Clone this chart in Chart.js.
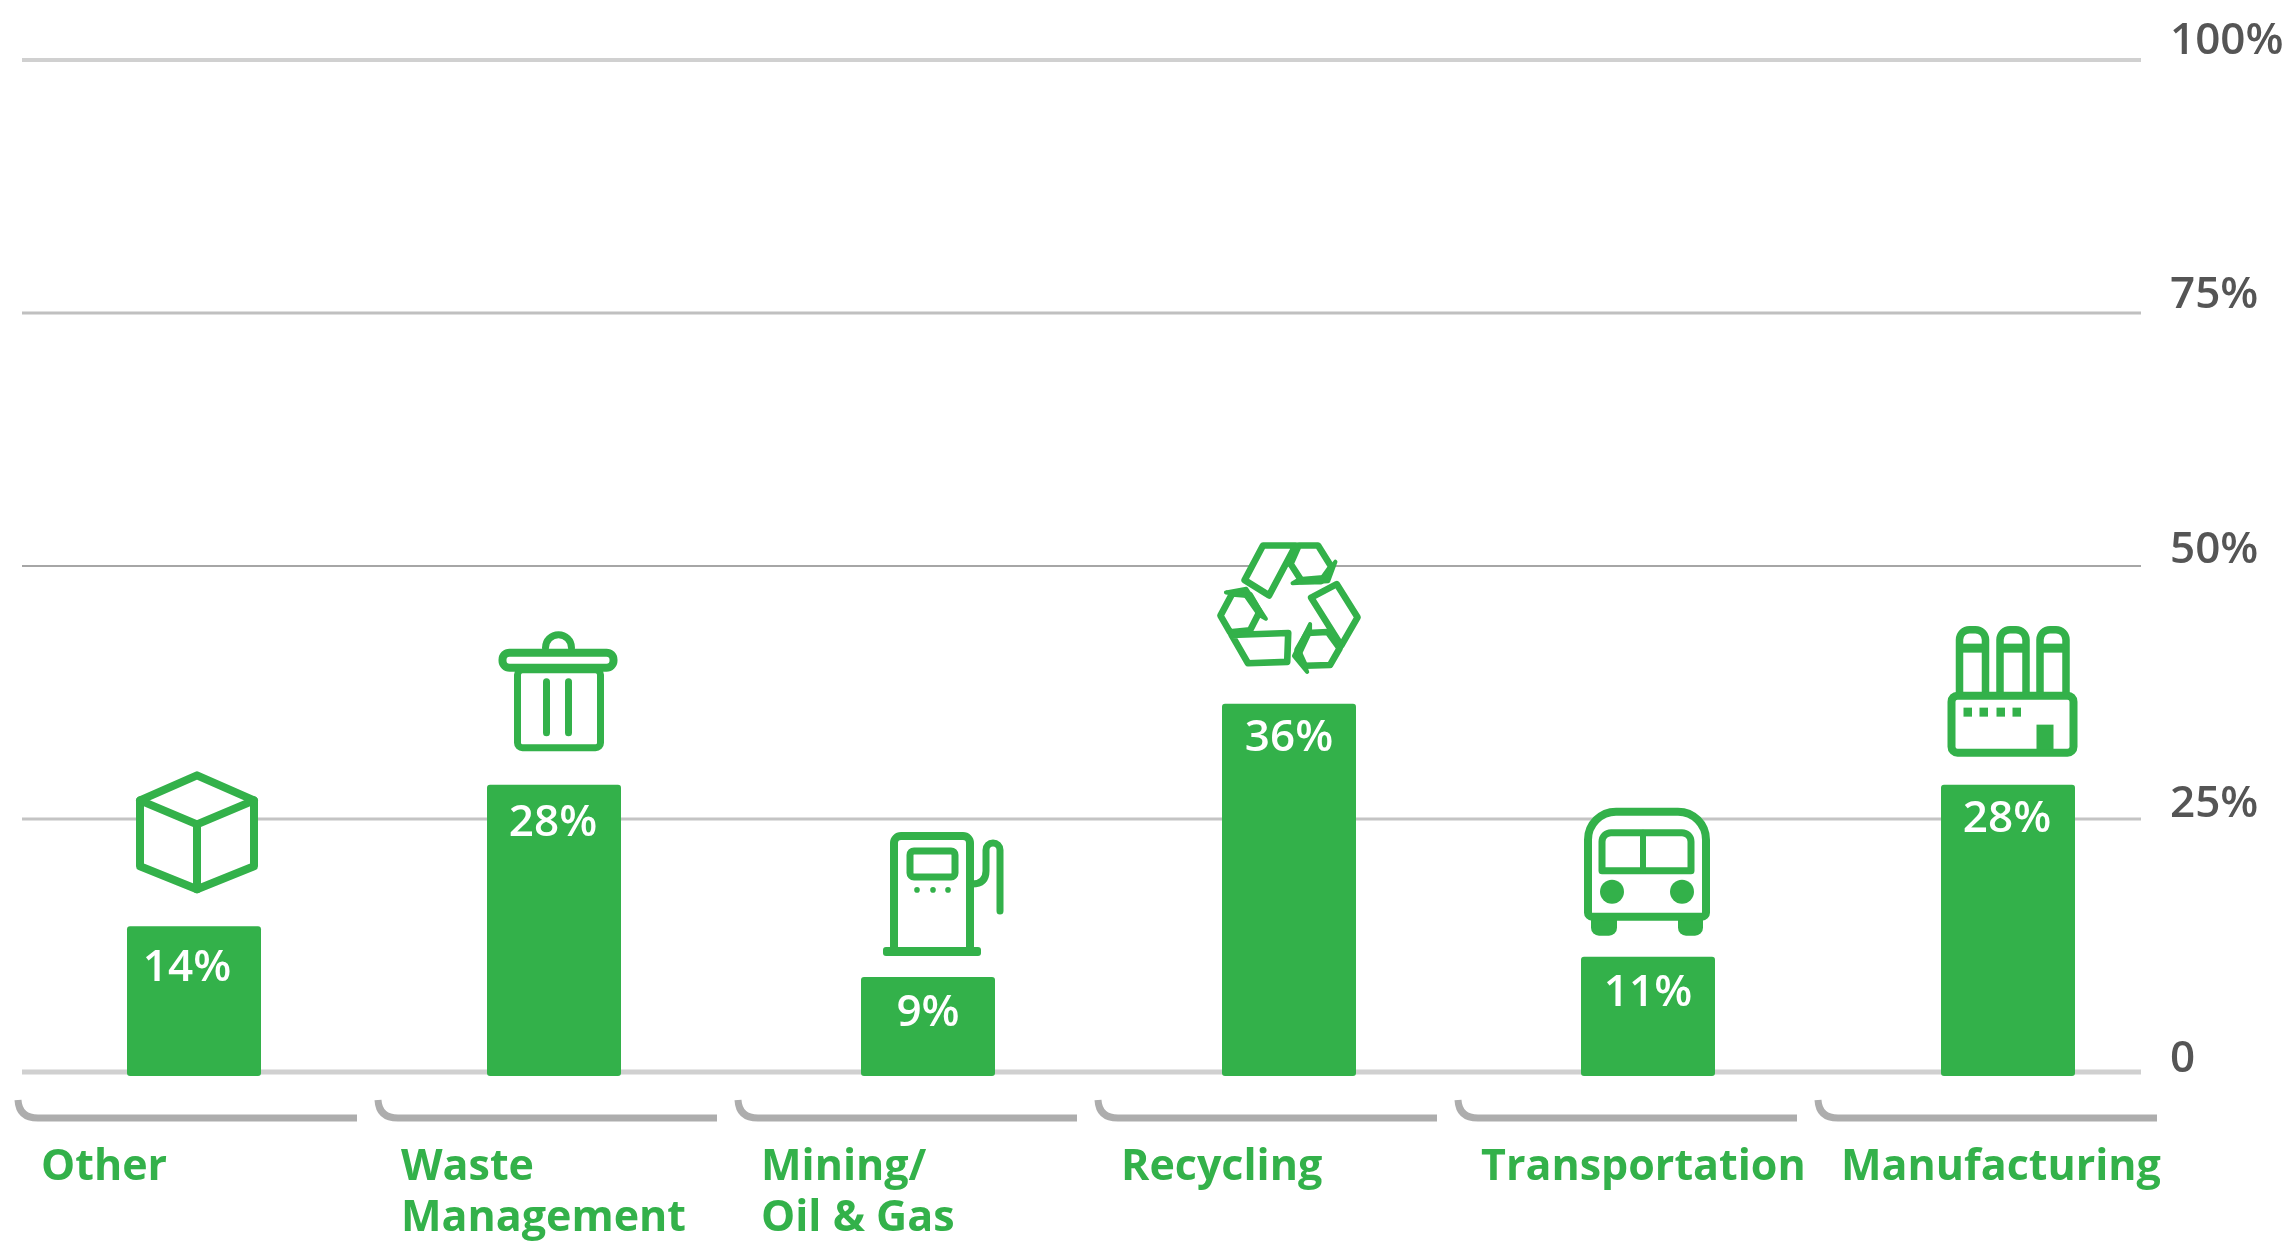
<!DOCTYPE html>
<html>
<head>
<meta charset="utf-8">
<title>Share by sector</title>
<script src="https://cdn.jsdelivr.net/npm/chart.js@4"></script>
<style>
  html, body { margin: 0; padding: 0; background: #ffffff; }
  canvas { display: block; }
</style>
</head>
<body>
<canvas id="sectorChart" width="2296" height="1251"></canvas>
<script>
// chart data
const categories = [["Other"], ["Waste", "Management"], ["Mining/", "Oil & Gas"], ["Recycling"], ["Transportation"], ["Manufacturing"]];
const shares = [14, 28, 9, 36, 11, 28];
const yTickValues = [0, 25, 50, 75, 100];
const yTickLabels = ["0", "25%", "50%", "75%", "100%"];

const GREEN = "#33b14a";

// the source spaces its bars a little unevenly against the axis slots
const barNudge = [0, 0, 14, 15, 14, 14];
const barLabelNudgeX = [-7, -1, 0, 0, 0, -1];
const barLabelDrop = [38, 35, 33, 31, 33, 31];
const iconNudge = [[3, -98], [3.5, -96], [2, -88], [0.5, -99], [-1, -89], [5, -96]];

const gridStyles = {
    0: { color: "#d0d0d0", width: 5 },
    25: { color: "#c4c4c4", width: 3 },
    50: { color: "#a6a6a6", width: 2 },
    75: { color: "#c0c0c0", width: 3 },
    100: { color: "#d0d0d0", width: 4 }
};
const yLabelLift = { 0: 13, 25: 15, 50: 16, 75: 18, 100: 19 };


function strokeFill(ctx, width) {
    ctx.lineWidth = width;
    ctx.fillStyle = "#ffffff";
    ctx.fill();
    ctx.stroke();
}

function box(ctx, x, y, w, h, r) {
    ctx.beginPath();
    ctx.roundRect(x, y, w, h, r);
}

function line(ctx, x1, y1, x2, y2, width) {
    ctx.lineWidth = width;
    ctx.beginPath();
    ctx.moveTo(x1, y1);
    ctx.lineTo(x2, y2);
    ctx.stroke();
}

function poly(ctx, pts, close) {
    ctx.beginPath();
    pts.forEach(function(p, i) {
        if (i === 0) ctx.moveTo(p[0], p[1]);
        else ctx.lineTo(p[0], p[1]);
    });
    if (close) ctx.closePath();
}

// icons are drawn around their own centre
function drawCube(ctx) {
    poly(ctx, [[0, -57], [57, -32], [57, 34], [0, 57], [-57, 34], [-57, -32]], true);
    strokeFill(ctx, 8);
    poly(ctx, [[-57, -32], [0, -8], [57, -32]], false);
    ctx.stroke();
    line(ctx, 0, -8, 0, 57, 8);
}

function drawTrash(ctx) {
    ctx.beginPath();
    ctx.arc(1, -45, 13, Math.PI, 0);
    ctx.fillStyle = "#ffffff";
    ctx.lineWidth = 7;
    ctx.fill();
    ctx.stroke();
    box(ctx, -40, -23, 83, 78, 5);
    strokeFill(ctx, 7);
    box(ctx, -55, -40, 111, 15, 7);
    strokeFill(ctx, 8);
    line(ctx, -11, -11, -11, 40, 7);
    line(ctx, 11, -11, 11, 40, 7);
}

function drawPump(ctx) {
    box(ctx, -36, -57, 76, 116, [7, 7, 0, 0]);
    strokeFill(ctx, 8);
    box(ctx, -20, -42, 45, 26, 4);
    strokeFill(ctx, 7);
    ctx.fillStyle = GREEN;
    [-13, 3, 18].forEach(function(x) {
        ctx.beginPath();
        ctx.arc(x, -3, 2.8, 0, Math.PI * 2);
        ctx.fill();
    });
    box(ctx, -47, 54, 98, 9, 3);
    ctx.fill();
    ctx.lineWidth = 7;
    ctx.beginPath();
    ctx.moveTo(42, -9);
    ctx.quadraticCurveTo(56, -9, 56, -22);
    ctx.lineTo(56, -43);
    ctx.arc(63, -43, 7, Math.PI, 0);
    ctx.lineTo(70, 18);
    ctx.stroke();
}

function drawRecycle(ctx) {
    ctx.scale(1.02, 1.02);
    for (let k = 0; k < 3; k++) {
        ctx.save();
        ctx.rotate(k * Math.PI * 2 / 3);
        poly(ctx, [[9, -62], [28, -62], [41, -41], [31, -27], [12, -27], [1, -44]], true);
        strokeFill(ctx, 6.5);
        poly(ctx, [[-26, -62], [6, -62], [-20, -13], [-44, -28]], true);
        strokeFill(ctx, 6.5);
        poly(ctx, [[45, -46], [38, -27], [3, -25], [10, -29], [33, -31]], true);
        ctx.fillStyle = GREEN;
        ctx.lineWidth = 4;
        ctx.fill();
        ctx.stroke();
        ctx.restore();
    }
}

function drawBus(ctx) {
    ctx.fillStyle = GREEN;
    box(ctx, -56, 40, 26, 24, 8);
    ctx.fill();
    box(ctx, 31, 40, 25, 24, 8);
    ctx.fill();
    box(ctx, -59, -60, 118, 105, [28, 28, 4, 4]);
    strokeFill(ctx, 8);
    box(ctx, -45, -39, 89, 38, [9, 9, 0, 0]);
    strokeFill(ctx, 7);
    line(ctx, -4, -39, -4, -1, 6);
    ctx.fillStyle = GREEN;
    [-35, 35].forEach(function(x) {
        ctx.beginPath();
        ctx.arc(x, 20, 12, 0, Math.PI * 2);
        ctx.fill();
    });
}

function drawFactory(ctx) {
    [-40.5, 0, 40].forEach(function(x) {
        box(ctx, x - 13, -63, 26, 70, [10, 10, 0, 0]);
        strokeFill(ctx, 7.5);
        ctx.fillStyle = GREEN;
        ctx.fillRect(x - 13, -49, 26, 9);
    });
    box(ctx, -61.5, 3, 122, 57, 6);
    strokeFill(ctx, 8);
    ctx.fillStyle = GREEN;
    [-49.5, -33.5, -16.5, -0.5].forEach(function(x) {
        ctx.fillRect(x, 15, 8.5, 9);
    });
    ctx.fillRect(23.5, 32, 17, 25);
}

const iconDrawers = [drawCube, drawTrash, drawPump, drawRecycle, drawBus, drawFactory];


const sectorDecor = {
    id: "sectorDecor",

    afterDatasetsUpdate(chart) {
        chart.getDatasetMeta(0).data.forEach(function(bar, i) {
            bar.x += barNudge[i];
        });
    },

    // grid lines stop short of the x scale on both sides, so they are drawn here
    beforeDatasetsDraw(chart) {
        const ctx = chart.ctx;
        const yScale = chart.scales.y;
        const xScale = chart.scales.x;

        ctx.save();
        yTickValues.forEach(function(v, i) {
            const y = yScale.getPixelForValue(v);
            ctx.strokeStyle = gridStyles[v].color;
            line(ctx, 22, y, 2141, y, gridStyles[v].width);

            ctx.fillStyle = "#555555";
            ctx.font = "600 44px 'Open Sans'";
            ctx.textAlign = "left";
            ctx.textBaseline = "middle";
            ctx.fillText(yTickLabels[i], v === 100 ? 2170 : 2170, y - yLabelLift[v]);
        });

        // brackets above the category names
        ctx.strokeStyle = "#adadad";
        ctx.lineWidth = 7;
        categories.forEach(function(c, i) {
            const cx = xScale.getPixelForValue(i);
            ctx.beginPath();
            ctx.moveTo(cx - 176, 1100);
            ctx.quadraticCurveTo(cx - 175, 1118, cx - 156, 1118);
            ctx.lineTo(cx + 163, 1118);
            ctx.stroke();
        });
        ctx.restore();
    },

    afterDatasetsDraw(chart) {
        const ctx = chart.ctx;
        chart.getDatasetMeta(0).data.forEach(function(bar, i) {
            ctx.save();
            ctx.fillStyle = "#ffffff";
            ctx.font = "600 44px 'Open Sans'";
            ctx.textAlign = "center";
            ctx.textBaseline = "middle";
            ctx.fillText(shares[i] + "%", bar.x + barLabelNudgeX[i], bar.y + barLabelDrop[i]);

            ctx.translate(bar.x + iconNudge[i][0], bar.y + iconNudge[i][1]);
            ctx.strokeStyle = GREEN;
            ctx.fillStyle = GREEN;
            ctx.lineJoin = "round";
            ctx.lineCap = "round";
            iconDrawers[i](ctx);
            ctx.restore();
        });
    }
};


new Chart(document.getElementById("sectorChart"), {
    type: "bar",
    data: {
        labels: categories,
        datasets: [{
            data: shares,
            backgroundColor: GREEN,
            barThickness: 126,
            inflateAmount: 4,
            borderRadius: 3,
            borderSkipped: false,
            clip: false
        }]
    },
    plugins: [sectorDecor],
    options: {
        responsive: false,
        animation: false,
        layout: { padding: { top: 60, left: 14, right: 0, bottom: 0 } },
        plugins: {
            legend: { display: false },
            tooltip: { enabled: false }
        },
        scales: {
            x: {
                afterFit: function(scale) {
                    scale.height = 179;
                    // long last label should not squeeze the slots
                    scale.paddingRight = 0;
                    scale.paddingLeft = 0;
                },
                grid: { display: false },
                border: { display: false },
                ticks: {
                    autoSkip: false,
                    maxRotation: 0,
                    minRotation: 0,
                    align: "start",
                    labelOffset: -153,
                    padding: 62,
                    color: GREEN,
                    font: { family: "'Open Sans'", size: 43, weight: "700", lineHeight: 1.19 }
                }
            },
            y: {
                position: "right",
                min: 0,
                max: 100,
                afterFit: function(scale) { scale.width = 122; },
                grid: { display: false },
                border: { display: false },
                ticks: { display: false, stepSize: 25 }
            }
        }
    }
});
</script>
</body>
</html>
